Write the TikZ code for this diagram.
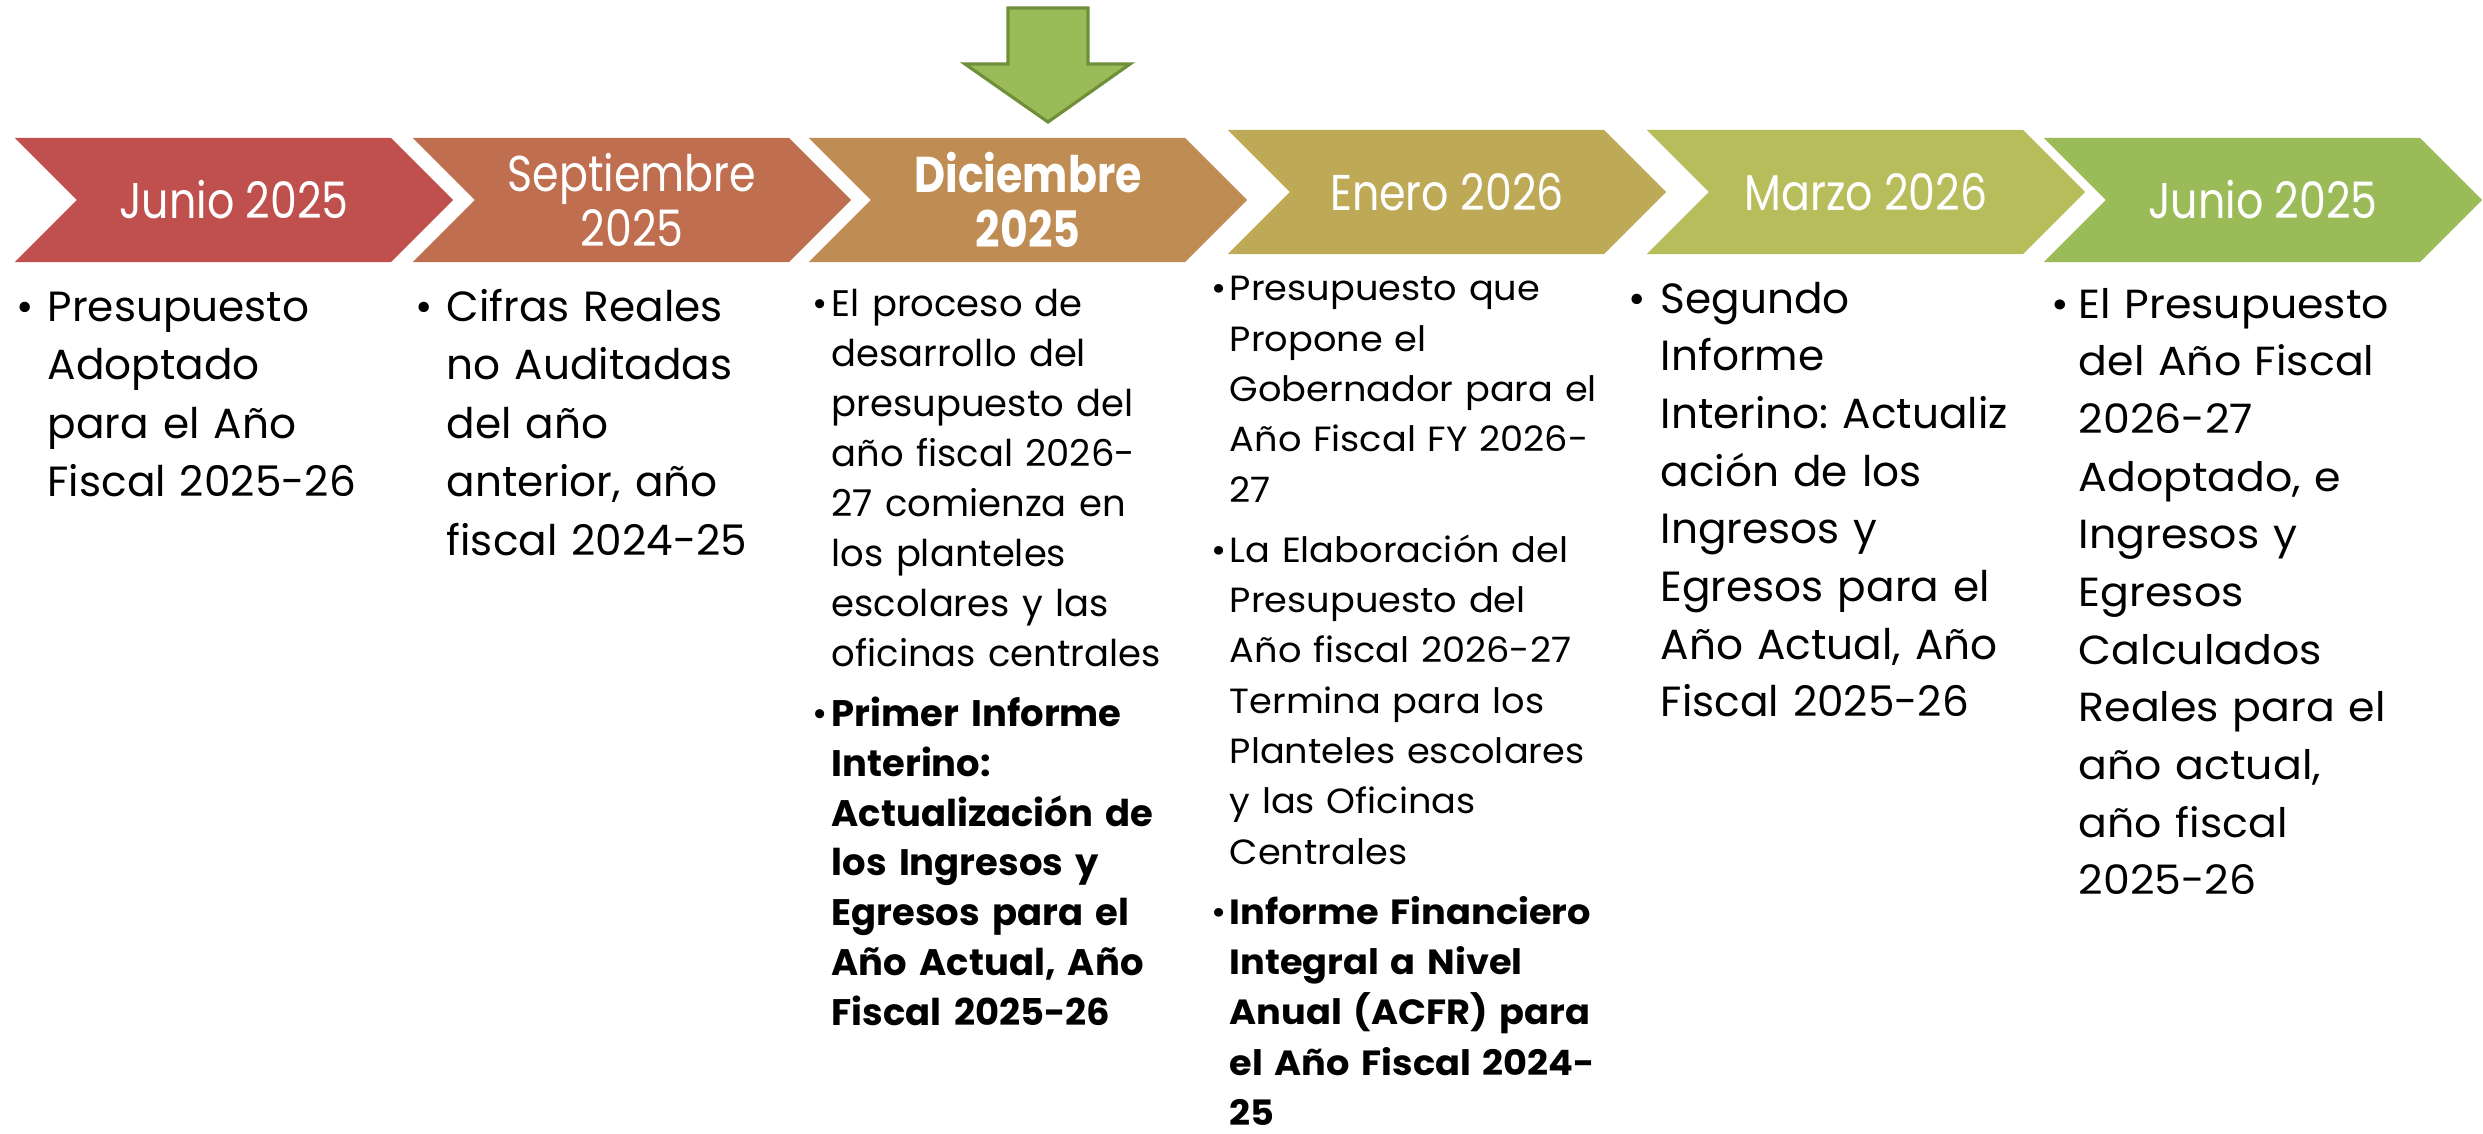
\documentclass[tikz,border=0pt]{standalone}
\usepackage{fontspec}
\setmainfont{Poppins}
\newfontfamily\narrowfont[FakeStretch=0.85]{Poppins}
\newfontfamily\widefont[FakeStretch=1.05]{Poppins}
\usetikzlibrary{shapes.symbols,positioning}
\frenchspacing
\definecolor{junC}{HTML}{C0504D}
\definecolor{sepC}{HTML}{C06E50}
\definecolor{dicC}{HTML}{BF8C53}
\definecolor{eneC}{HTML}{BEA956}
\definecolor{marC}{HTML}{B6BD5A}
\definecolor{jnnC}{HTML}{9BBB59}
\definecolor{markEdge}{HTML}{6F8F3A}
\tikzset{
    %Define style for the time line chevrons
    chev/.style={
           signal, signal from=west, signal to=east,
           signal pointer angle=90,
           minimum width=4.38cm, minimum height=1.24cm,
           inner sep=0pt, text=white, align=center,
           font=\narrowfont\fontsize{14.3}{15.7}\selectfont},
    % Define style for the notes below the chevrons
    notes/.style={
           anchor=north west, inner sep=0pt,
           text width=5cm, align=left},
    % Define style for the marker arrow
    marker/.style={fill=jnnC, draw=markEdge, line width=0.9pt, line join=miter}
}
% bullet item with hanging indent
\newcommand{\bul}[2]{\noindent\hangindent=#1\hangafter=1\makebox[#1][l]{\strut •}{\let\\\newline #2}\par}

\begin{document}
\begin{tikzpicture}[x=0.01cm, y=-0.01cm]
  \useasboundingbox (0,0) rectangle (2483,1133);
  % marker over the current month
  \draw[marker] (1008,8) -- (1088,8) -- (1088,64) -- (1130,64) -- (1048,122)
     -- (965,64) -- (1008,64) -- cycle;
  % time line
  \node[chev, fill=junC] (jun) at (234,200) {Junio 2025};
  \node[chev, fill=sepC] (sep) at (632,200) {Septiembre\\2025};
  \node[chev, fill=dicC, font=\narrowfont\bfseries\fontsize{14.3}{15.7}\selectfont] (dic) at (1028,200) {Diciembre\\2025};
  \node[chev, fill=eneC] (ene) at (1447,192) {Enero 2026};
  \node[chev, fill=marC] (mar) at (1866,192) {Marzo 2026};
  \node[chev, fill=jnnC] (jnn) at (2263,200) {Junio 2025};
  % notes
  \node[notes, font=\fontsize{12}{16.6}\selectfont] (junN) at (16,280)
    {\bul{0.31cm}{Presupuesto\\Adoptado\\para el Año\\Fiscal 2025-26}};
  \node[notes, font=\fontsize{12}{16.6}\selectfont] (sepN) at (415,280)
    {\bul{0.31cm}{Cifras Reales\\no Auditadas\\del año\\anterior, año\\fiscal 2024-25}};
  \node[notes, font=\fontsize{10.5}{14.2}\selectfont] (dicN) at (812,281)
    {\bul{0.19cm}{El proceso de\\desarrollo del\\presupuesto del\\año fiscal 2026-\\27 comienza en\\los planteles\\escolares y las\\oficinas centrales}
     \vskip 0.1cm
     \bul{0.19cm}{\bfseries Primer Informe\\Interino:\\Actualización de\\los Ingresos y\\Egresos para el\\Año Actual, Año\\Fiscal 2025-26}};
  \node[notes, font=\widefont\fontsize{9.95}{14.3}\selectfont] (eneN) at (1211,265)
    {\bul{0.18cm}{Presupuesto que\\Propone el\\Gobernador para el\\Año Fiscal FY 2026-\\27}
     \vskip 0.1cm
     \bul{0.18cm}{La Elaboración del\\Presupuesto del\\Año fiscal 2026-27\\Termina para los\\Planteles escolares\\y las Oficinas\\Centrales}
     \vskip 0.1cm
     \bul{0.18cm}{\bfseries Informe Financiero\\Integral a Nivel\\Anual (ACFR) para\\el Año Fiscal 2024-\\25}};
  \node[notes, font=\fontsize{12}{16.4}\selectfont] (marN) at (1628,272)
    {\bul{0.32cm}{Segundo\\Informe\\Interino: Actualiz\\ación de los\\Ingresos y\\Egresos para el\\Año Actual, Año\\Fiscal 2025-26}};
  \node[notes, font=\widefont\fontsize{11.55}{16.4}\selectfont] (jnnN) at (2051,277)
    {\bul{0.27cm}{El Presupuesto\\del Año Fiscal\\2026-27\\Adoptado, e\\Ingresos y\\Egresos\\Calculados\\Reales para el\\año actual,\\año fiscal\\2025-26}};
\end{tikzpicture}
\end{document}
